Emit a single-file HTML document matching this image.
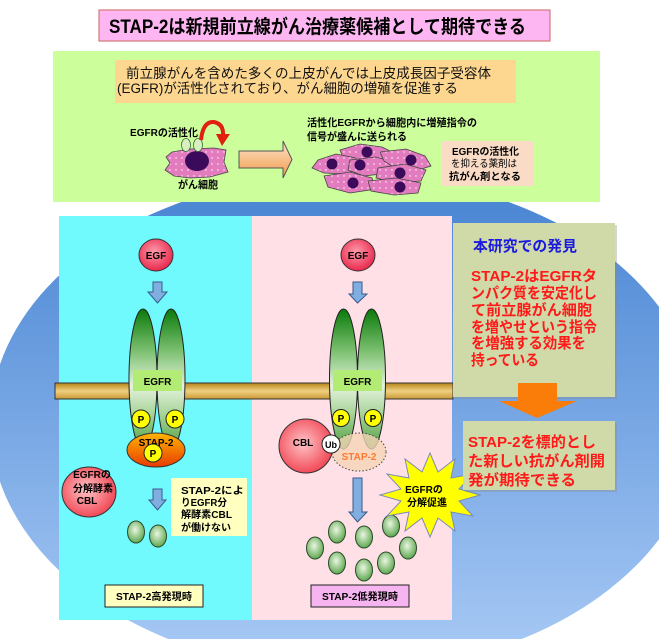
<!DOCTYPE html>
<html><head><meta charset="utf-8">
<style>
html,body{margin:0;padding:0;background:#fff;width:659px;height:639px;overflow:hidden;}
svg{display:block;overflow:hidden;}
text{font-family:"Liberation Sans","Noto Sans CJK JP",sans-serif;font-weight:bold;}
</style></head><body>
<svg width="659" height="639" viewBox="0 0 659 639" xmlns="http://www.w3.org/2000/svg">
<defs>
 <linearGradient id="bg" gradientUnits="userSpaceOnUse" x1="0" y1="174" x2="0" y2="672"><stop offset="0" stop-color="#4683d2"/><stop offset="1" stop-color="#aacbf6"/></linearGradient>
 <linearGradient id="oval" x1="0" y1="0" x2="0" y2="1"><stop offset="0" stop-color="#0a7a0a"/><stop offset="0.3" stop-color="#7cc070"/><stop offset="0.55" stop-color="#e4f2de"/><stop offset="0.75" stop-color="#a8d498"/><stop offset="1" stop-color="#4e9e40"/></linearGradient>
 <linearGradient id="mem" x1="0" y1="0" x2="0" y2="1"><stop offset="0" stop-color="#b8841a"/><stop offset="0.5" stop-color="#eed080"/><stop offset="1" stop-color="#cc9838"/></linearGradient>
 <radialGradient id="egf" cx="0.45" cy="0.4" r="0.6"><stop offset="0" stop-color="#ff9aac"/><stop offset="1" stop-color="#e8284c"/></radialGradient>
 <radialGradient id="cbl" cx="0.45" cy="0.45" r="0.6"><stop offset="0" stop-color="#ffc4c8"/><stop offset="1" stop-color="#f0404e"/></radialGradient>
 <linearGradient id="stap" x1="0" y1="0" x2="0" y2="1"><stop offset="0" stop-color="#ffb400"/><stop offset="1" stop-color="#e83c00"/></linearGradient>
 <radialGradient id="gsm" cx="0.45" cy="0.4" r="0.6"><stop offset="0" stop-color="#eaf6e2"/><stop offset="1" stop-color="#5ea850"/></radialGradient>
 <linearGradient id="oarr" x1="0" y1="0" x2="0" y2="1"><stop offset="0" stop-color="#fde4cc"/><stop offset="1" stop-color="#f09a48"/></linearGradient>
 <pattern id="dots" width="6" height="6" patternUnits="userSpaceOnUse"><rect width="6" height="6" fill="#e27cbe"/><circle cx="2" cy="2" r="0.7" fill="#fff"/></pattern>
</defs>

<!-- background ellipse, clipped geometrically to the frame -->
<path d="M0,364.3 A355,249 0 0,1 659,306.8 L659,539.2 A355,249 0 0,1 521.6,639 L168.4,639 A355,249 0 0,1 0,481.7 Z" fill="url(#bg)"/>

<!-- title -->
<rect x="99" y="10" width="451" height="31" fill="#fdb6f2" stroke="#d47a7a" stroke-width="1.2"/>
<text x="109" y="33" font-size="19" textLength="417" lengthAdjust="spacingAndGlyphs" fill="#000">STAP-2は新規前立線がん治療薬候補として期待できる</text>

<!-- green box -->
<rect x="53" y="51" width="547" height="151" fill="#ccfe9c"/>
<rect x="115" y="60" width="401" height="43" fill="#fdd690"/>
<text x="126" y="78" font-size="13.5" style="font-weight:normal" textLength="365" lengthAdjust="spacingAndGlyphs" fill="#111">前立腺がんを含めた多くの上皮がんでは上皮成長因子受容体</text>
<text x="117" y="93" font-size="13.5" style="font-weight:normal" textLength="341" lengthAdjust="spacingAndGlyphs" fill="#111">(EGFR)が活性化されており、がん細胞の増殖を促進する</text>

<!-- small cell -->
<polygon points="172,152 190,149 214,148 226,150 224,162 228,172 210,177 190,178 174,176 165,170 170,163 166,157" fill="url(#dots)" stroke="#444" stroke-width="0.8"/>
<ellipse cx="197" cy="161" rx="12" ry="10" fill="#3c0a5a"/>
<ellipse cx="186" cy="145" rx="4.5" ry="6.5" fill="#d8f0c0" stroke="#3a6a3a" stroke-width="0.8"/>
<ellipse cx="198" cy="145" rx="4.5" ry="6.5" fill="#d8f0c0" stroke="#3a6a3a" stroke-width="0.8"/>
<path d="M201,140 Q203,121 214,122 Q224,124 223,136" fill="none" stroke="#e02010" stroke-width="4"/>
<polygon points="216,134 230,134 222,146" fill="#e02010"/>
<text x="130" y="136" font-size="10.5" textLength="68" lengthAdjust="spacingAndGlyphs">EGFRの活性化</text>
<text x="178" y="188" font-size="10.5" textLength="40" lengthAdjust="spacingAndGlyphs">がん細胞</text>

<!-- big arrow -->
<polygon points="239,151 283,151 283,141 292,159.5 283,178 283,168 239,168" fill="url(#oarr)" stroke="#555" stroke-width="1"/>

<!-- texts -->
<text x="307" y="126" font-size="10.5" textLength="170" lengthAdjust="spacingAndGlyphs">活性化EGFRから細胞内に増殖指令の</text>
<text x="307" y="140" font-size="10.5" textLength="100" lengthAdjust="spacingAndGlyphs">信号が盛んに送られる</text>

<!-- cell cluster -->
<g fill="url(#dots)" stroke="#444" stroke-width="0.8">
<polygon points="340,150 360,144 382,147 396,154 386,163 360,164 344,160"/>
<polygon points="318,160 336,154 356,158 360,169 344,174 324,173 312,168"/>
<polygon points="350,160 376,157 396,163 390,173 364,176 348,170"/>
<polygon points="380,152 406,149 425,156 431,166 415,171 395,168 384,161"/>
<polygon points="378,168 405,164 426,170 421,181 395,183 376,178"/>
<polygon points="324,176 350,172 372,178 376,189 350,193 328,187"/>
<polygon points="368,181 396,178 421,183 418,193 394,195 371,191"/>
</g>
<g fill="#3c0a5a">
<circle cx="367" cy="152" r="5.5"/>
<circle cx="332" cy="164" r="5.5"/>
<circle cx="360" cy="165" r="5.5"/>
<circle cx="411" cy="160" r="5.5"/>
<circle cx="400" cy="173" r="5.5"/>
<circle cx="353" cy="183" r="5.5"/>
<circle cx="400" cy="187" r="5.5"/>
</g>

<!-- peach box -->
<rect x="442" y="141" width="91" height="45" fill="#fadcc6"/>
<text x="452" y="155" font-size="10" textLength="67" lengthAdjust="spacingAndGlyphs">EGFRの活性化</text>
<text x="451" y="167" font-size="10" style="font-weight:normal" textLength="66" lengthAdjust="spacingAndGlyphs">を抑える薬剤は</text>
<text x="449" y="180" font-size="10" textLength="72" lengthAdjust="spacingAndGlyphs">抗がん剤となる</text>

<!-- panels -->
<rect x="59" y="216" width="193" height="404" fill="#70fafd"/>
<rect x="252" y="216" width="200" height="404" fill="#ffe0e6"/>

<!-- membrane -->
<rect x="55" y="383" width="398" height="16" fill="url(#mem)" stroke="#333" stroke-width="1"/>

<!-- left panel -->
<ellipse cx="156" cy="255" rx="17" ry="16" fill="url(#egf)" stroke="#333" stroke-width="1"/>
<text x="156" y="259" font-size="10" text-anchor="middle">EGF</text>
<polygon points="153,282 162,282 162,292 167,292 157.5,303 148,292 153,292" fill="#80aee0" stroke="#3a5a8a" stroke-width="1"/>
<ellipse cx="143" cy="379" rx="14" ry="70" fill="url(#oval)" stroke="#222" stroke-width="1"/>
<ellipse cx="171" cy="379" rx="14" ry="70" fill="url(#oval)" stroke="#222" stroke-width="1"/>
<rect x="133" y="370" width="49" height="21" fill="#b2ec74"/>
<text x="157.5" y="385" font-size="10" text-anchor="middle">EGFR</text>
<circle cx="141" cy="419" r="9" fill="#ffff00" stroke="#222" stroke-width="1"/>
<text x="141" y="423" font-size="10" text-anchor="middle">P</text>
<circle cx="175" cy="419" r="9" fill="#ffff00" stroke="#222" stroke-width="1"/>
<text x="175" y="423" font-size="10" text-anchor="middle">P</text>
<ellipse cx="156" cy="450" rx="29" ry="17" fill="url(#stap)" stroke="#333" stroke-width="1"/>
<text x="156" y="446" font-size="10" text-anchor="middle">STAP-2</text>
<circle cx="153" cy="453" r="9" fill="#ffff00" stroke="#222" stroke-width="1"/>
<text x="153" y="457" font-size="10" text-anchor="middle">P</text>

<ellipse cx="89" cy="492" rx="27" ry="25" fill="url(#cbl)" stroke="#333" stroke-width="1"/>
<text x="92" y="478" font-size="10" text-anchor="middle">EGFRの</text>
<text x="93" y="492" font-size="10" text-anchor="middle">分解酵素</text>
<text x="87" y="504" font-size="10" text-anchor="middle">CBL</text>

<polygon points="153,489 162,489 162,500 166,500 157.5,510 149,500 153,500" fill="#80aee0" stroke="#3a5a8a" stroke-width="1"/>
<ellipse cx="136" cy="532" rx="8.5" ry="11" fill="url(#gsm)" stroke="#2a4a2a" stroke-width="1"/>
<ellipse cx="158" cy="536" rx="8.5" ry="11" fill="url(#gsm)" stroke="#2a4a2a" stroke-width="1"/>

<rect x="171" y="478" width="76" height="58" fill="#ffffc0"/>
<text x="181" y="494" font-size="10" textLength="63" lengthAdjust="spacingAndGlyphs">STAP-2によ</text>
<text x="181" y="506" font-size="10" textLength="46" lengthAdjust="spacingAndGlyphs">りEGFR分</text>
<text x="181" y="518" font-size="10" textLength="51" lengthAdjust="spacingAndGlyphs">解酵素CBL</text>
<text x="181" y="531" font-size="10" textLength="50" lengthAdjust="spacingAndGlyphs">が働けない</text>

<rect x="105" y="585" width="98" height="22" fill="#ffffc0" stroke="#222" stroke-width="1"/>
<text x="116" y="600" font-size="10" textLength="76" lengthAdjust="spacingAndGlyphs">STAP-2高発現時</text>

<!-- middle panel -->
<ellipse cx="358" cy="255" rx="17" ry="16" fill="url(#egf)" stroke="#333" stroke-width="1"/>
<text x="358" y="259" font-size="10" text-anchor="middle">EGF</text>
<polygon points="353,282 362,282 362,294 367,294 357.5,303 349,294 353,294" fill="#80aee0" stroke="#3a5a8a" stroke-width="1"/>
<ellipse cx="343.5" cy="379" rx="14" ry="70" fill="url(#oval)" stroke="#222" stroke-width="1"/>
<ellipse cx="371.5" cy="379" rx="14" ry="70" fill="url(#oval)" stroke="#222" stroke-width="1"/>
<rect x="333" y="370" width="49" height="21" fill="#b2ec74"/>
<text x="357.5" y="385" font-size="10" text-anchor="middle">EGFR</text>
<circle cx="341" cy="418" r="8.5" fill="#ffff00" stroke="#222" stroke-width="1"/>
<text x="341" y="422" font-size="10" text-anchor="middle">P</text>
<circle cx="373" cy="418" r="8.5" fill="#ffff00" stroke="#222" stroke-width="1"/>
<text x="373" y="422" font-size="10" text-anchor="middle">P</text>
<ellipse cx="359" cy="452" rx="27" ry="19" fill="#f5d4b6" fill-opacity="0.8" stroke="#444" stroke-width="1" stroke-dasharray="1.5,2"/>
<text x="359" y="460" font-size="10" text-anchor="middle" fill="#ff7a30">STAP-2</text>
<ellipse cx="306" cy="446" rx="27" ry="27" fill="url(#cbl)" stroke="#333" stroke-width="1"/>
<text x="303" y="446" font-size="10" text-anchor="middle">CBL</text>
<circle cx="331" cy="444" r="9" fill="#fff" stroke="#222" stroke-width="1"/>
<text x="331" y="448" font-size="9" text-anchor="middle">Ub</text>

<polygon points="353,478 362,478 362,512 367,512 357.5,522 349,512 353,512" fill="#80aee0" stroke="#3a5a8a" stroke-width="1"/>
<g fill="url(#gsm)" stroke="#2a4a2a" stroke-width="1">
<ellipse cx="337" cy="532" rx="8.5" ry="11"/>
<ellipse cx="391" cy="526" rx="8.5" ry="11"/>
<ellipse cx="364" cy="537" rx="8.5" ry="11"/>
<ellipse cx="315" cy="548" rx="8.5" ry="11"/>
<ellipse cx="408" cy="548" rx="8.5" ry="11"/>
<ellipse cx="337" cy="563" rx="8.5" ry="11"/>
<ellipse cx="386" cy="563" rx="8.5" ry="11"/>
<ellipse cx="364" cy="570" rx="8.5" ry="11"/>
</g>
<rect x="311" y="585" width="98" height="22" fill="#f6b4f0" stroke="#222" stroke-width="1"/>
<text x="322" y="600" font-size="10" textLength="76" lengthAdjust="spacingAndGlyphs">STAP-2低発現時</text>

<!-- star -->
<polygon points="480,495 459,501 473,516 451,512 455,531 438,518 430,537 422,518 405,531 409,512 387,516 401,501 380,495 401,489 387,474 409,478 405,459 422,472 430,453 438,472 455,459 451,478 473,474 459,489" fill="#ffff00" stroke="#7a8ab8" stroke-width="1"/>
<text x="424" y="493" font-size="10" text-anchor="middle">EGFRの</text>
<text x="427" y="506" font-size="10" text-anchor="middle">分解促進</text>

<!-- right panel -->
<rect x="455" y="225" width="162" height="174" fill="#8a8a8a" opacity="0.35"/>
<rect x="453" y="223" width="162" height="174" fill="#cfdaa8"/>
<text x="473" y="251" font-size="15" fill="#1a1ae0" textLength="104" lengthAdjust="spacingAndGlyphs">本研究での発見</text>
<g fill="#ff1a1a" font-size="15">
<text x="471" y="281" textLength="126" lengthAdjust="spacingAndGlyphs">STAP-2はEGFRタ</text>
<text x="471" y="298" textLength="126" lengthAdjust="spacingAndGlyphs">ンパク質を安定化し</text>
<text x="471" y="315" textLength="121" lengthAdjust="spacingAndGlyphs">て前立腺がん細胞</text>
<text x="471" y="332" textLength="126" lengthAdjust="spacingAndGlyphs">を増やせという指令</text>
<text x="471" y="348" textLength="115" lengthAdjust="spacingAndGlyphs">を増強する効果を</text>
<text x="471" y="365" textLength="68" lengthAdjust="spacingAndGlyphs">持っている</text>
</g>

<!-- orange down arrow -->
<polygon points="518,383 557,383 557,401 577,401 537,418 499,401 518,401" fill="#fa7d0a"/>

<!-- lower box -->
<rect x="465" y="423" width="152" height="69" fill="#8a8a8a" opacity="0.35"/>
<rect x="463" y="421" width="152" height="69" fill="#cfdaa8"/>
<g fill="#ff1a1a" font-size="15">
<text x="468" y="447" textLength="128" lengthAdjust="spacingAndGlyphs">STAP-2を標的とし</text>
<text x="468" y="466" textLength="137" lengthAdjust="spacingAndGlyphs">た新しい抗がん剤開</text>
<text x="468" y="485" textLength="108" lengthAdjust="spacingAndGlyphs">発が期待できる</text>
</g>
</svg>
</body></html>
